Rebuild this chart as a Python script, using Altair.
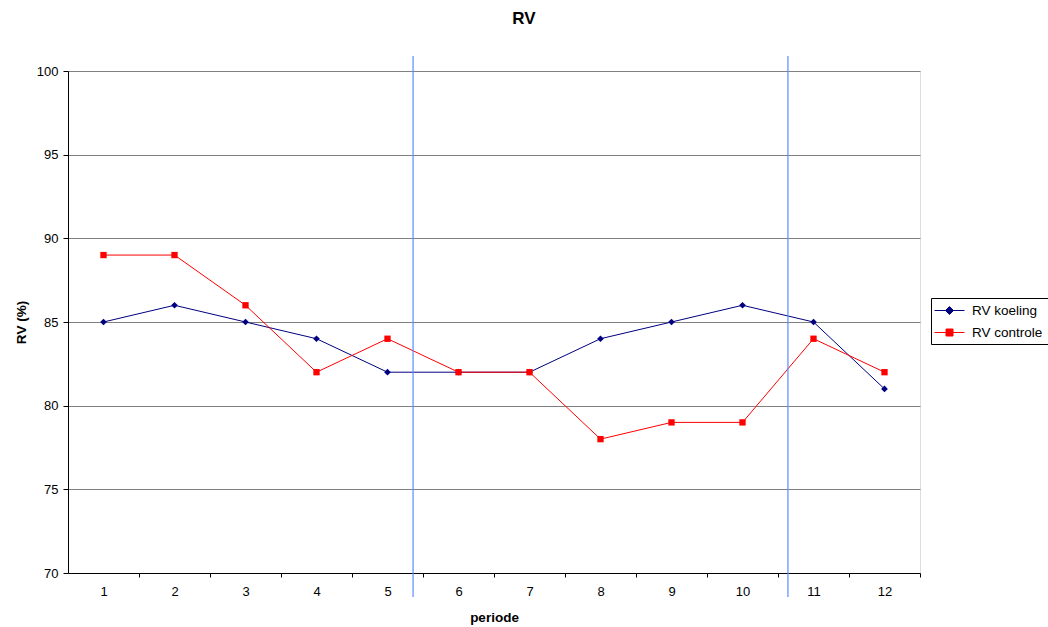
import altair as alt
import pandas as pd

periods = list(range(1, 13))
koeling = [85, 86, 85, 84, 82, 82, 82, 84, 85, 86, 85, 81]
controle = [89, 89, 86, 82, 84, 82, 82, 78, 79, 79, 84, 82]
series_names = ["RV koeling", "RV controle"]
series_colors = ["#000080", "#FF0000"]
series_shapes = ["diamond", "square"]
legend_shapes = ["M-2.14,0L2.14,0M0,-0.57L0.57,0L0,0.57L-0.57,0Z",
                 "M-2.14,0L2.14,0M-0.5,-0.5H0.5V0.5H-0.5Z"]
marker_lines = [5.36, 10.64]

rows = []
for p, k, c in zip(periods, koeling, controle):
    rows.append({"periode": p, "serie": series_names[0], "RV": k})
    rows.append({"periode": p, "serie": series_names[1], "RV": c})
df = pd.DataFrame(rows)
vdf = pd.DataFrame({"x": marker_lines})

FONT = "Liberation Sans"
W, H = 852, 502
band = W / 12

xscale = alt.Scale(domain=[0.5, 12.5], nice=False, zero=False)
yscale = alt.Scale(domain=[70, 100], nice=False, zero=False)

xaxis = alt.Axis(values=periods, tickOffset=band / 2, labelOffset=-band / 2,
                 labelOverlap=False, labelFlush=False, format="d",
                 grid=False, domainColor="black", tickColor="black", tickSize=4,
                 labelFont=FONT, labelFontSize=13, labelColor="black", labelPadding=8,
                 title="periode", titleFont=FONT, titleFontSize=13.5, titleFontWeight="bold",
                 titleColor="black", titlePadding=12, labelAngle=0)
yaxis = alt.Axis(values=list(range(70, 101, 5)), grid=True, gridColor="#808080", gridWidth=1,
                 domainColor="black", tickColor="black", tickSize=5, labelPadding=5,
                 labelFont=FONT, labelFontSize=13, labelColor="black",
                 title="RV (%)", titleFont=FONT, titleFontSize=13.5, titleFontWeight="bold",
                 titleColor="black", titlePadding=8)

base = alt.Chart(df).encode(
    x=alt.X("periode:Q", scale=xscale, axis=xaxis),
    y=alt.Y("RV:Q", scale=yscale, axis=yaxis),
)

series_layers = []
for name, col in zip(series_names, series_colors):
    b = base.transform_filter(alt.datum.serie == name)
    series_layers.append(b.mark_line(strokeWidth=1, color=col))
for name, col, shp, sz in zip(series_names, series_colors, series_shapes, [45, 40]):
    b = base.transform_filter(alt.datum.serie == name)
    series_layers.append(b.mark_point(filled=True, size=sz, opacity=1, shape=shp, color=col))

vlines = alt.Chart(vdf).mark_rule(color="#5b8cff", strokeWidth=1.2, clip=False).encode(
    x=alt.X("x:Q", scale=xscale),
    y=alt.value(-15),
    y2=alt.value(526),
)

legend = alt.Legend(title=None, orient="none", legendX=863, legendY=227,
                    strokeColor="black", fillColor="white", padding=5,
                    labelFont=FONT, labelFontSize=13.5, labelColor="black",
                    symbolSize=196, symbolStrokeWidth=1, symbolOpacity=1,
                    symbolOffset=6, rowPadding=8, labelLimit=200, labelOffset=15)
leg_scale_c = alt.Scale(domain=series_names, range=series_colors)
leg_layer = alt.Chart(df).mark_point(filled=False, opacity=0).encode(
    x=alt.X("periode:Q", scale=xscale),
    y=alt.Y("RV:Q", scale=yscale),
    fill=alt.Fill("serie:N", scale=leg_scale_c, legend=legend),
    stroke=alt.Stroke("serie:N", scale=leg_scale_c, legend=legend),
    shape=alt.Shape("serie:N", scale=alt.Scale(domain=series_names, range=legend_shapes), legend=legend),
)

chart = alt.layer(*series_layers, vlines, leg_layer).properties(
    width=W, height=H,
    autosize=alt.AutoSizeParams(type="none"),
    padding={"left": 68, "top": 71, "right": 128, "bottom": 54},
    title=alt.TitleParams("RV", font=FONT, fontSize=17, fontWeight="bold", color="black",
                          offset=27, dx=30, anchor="middle"),
).configure_view(stroke="#808080").configure(background="white")

chart.save("out.html", embed_options={"renderer": "svg", "actions": False})
